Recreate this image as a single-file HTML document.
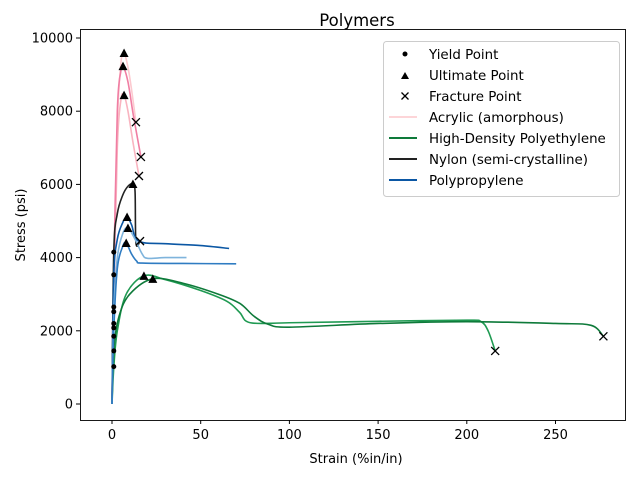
<!DOCTYPE html>
<html><head><meta charset="utf-8"><style>
body{margin:0;background:#fff}
svg{font-family:"DejaVu Sans","Liberation Sans",sans-serif}
</style></head><body>
<svg id="chart" width="640" height="480" viewBox="0 0 640 480">
<text x="357" y="26" font-size="16.5" text-anchor="middle">Polymers</text>
<g id="ticks"></g>
<g id="plot"></g>
<rect x="80.5" y="29.5" width="545" height="391" fill="none" stroke="#000" stroke-width="0.9"/>
<text x="356" y="463" font-size="13" text-anchor="middle">Strain (%in/in)</text>
<text transform="translate(25,225) rotate(-90)" font-size="13" text-anchor="middle">Stress (psi)</text>
<g>
<rect x="383.5" y="41.5" width="236" height="155" rx="3" fill="#fff" fill-opacity="0.85" stroke="#ccc"/>
<circle cx="405" cy="54" r="2.5" fill="#000"/>
<text x="429" y="59" font-size="13.4">Yield Point</text>
<path d="M401 79 L405 72 L409 79Z" fill="#000"/>
<text x="429" y="80" font-size="13.4">Ultimate Point</text>
<path d="M401.5 92.5 L408.5 99.5 M408.5 92.5 L401.5 99.5" stroke="#000" stroke-width="1.3"/>
<text x="429" y="101" font-size="13.4">Fracture Point</text>
<line x1="389" y1="117" x2="417" y2="117" stroke="#fdd5d8" stroke-width="2"/>
<text x="429" y="122" font-size="13.4">Acrylic (amorphous)</text>
<line x1="389" y1="138" x2="417" y2="138" stroke="#0e7a3a" stroke-width="2"/>
<text x="429" y="143" font-size="13.4">High-Density Polyethylene</text>
<line x1="389" y1="159" x2="417" y2="159" stroke="#222" stroke-width="2"/>
<text x="429" y="164" font-size="13.4">Nylon (semi-crystalline)</text>
<line x1="389" y1="180" x2="417" y2="180" stroke="#0b57a4" stroke-width="2"/>
<text x="429" y="185" font-size="13.4">Polypropylene</text>
</g>
</svg>
<script>
const xTicks=[0,50,100,150,200,250];
const yTicks=[0,2000,4000,6000,8000,10000];
const acr1X=[0,1,3,5,6.8,9,11,13.5], acr1Y=[0,3000,7600,9300,9590,9200,8600,7700];
const acr2X=[0,1,3,5,6.2,9,12,16.3], acr2Y=[0,3500,8000,9100,9230,8800,7900,6750];
const acr3X=[0,1,3,5,6.8,9,12,15.2], acr3Y=[0,2600,7000,8300,8440,8000,7100,6230];
const hd1X=[0,1,3,8,18,30,50,65,72,78,100,150,200,208,212,216], hd1Y=[0,1000,2000,3000,3500,3400,3100,2800,2500,2220,2220,2260,2290,2250,2000,1450];
const hd2X=[0,1,4,10,23,40,60,72,80,88,100,150,200,250,270,277], hd2Y=[0,1500,2400,3000,3420,3300,3000,2750,2400,2180,2100,2200,2250,2200,2150,1850];
const nyX=[0,1,3,6,9,11.8,13,13.5,15.8], nyY=[0,4150,5200,5700,5950,6010,5800,4400,4450];
const pp1X=[0,1,3,6,8.5,11,15,30,50,66], pp1Y=[0,3500,4500,4950,5110,4900,4450,4380,4330,4250];
const pp2X=[0,1,3,6,9,13,17,20,30,42], pp2Y=[0,2500,4000,4650,4810,4500,4100,3980,4000,4000];
const pp3X=[0,1,3,6,8,11,14,17,40,70], pp3Y=[0,2000,3700,4300,4400,4100,3900,3850,3840,3830];
const yieldX=[1,1,1,1,1,1,1,1,1], yieldY=[4150,3530,2650,2520,2200,2080,1850,1450,1020];
const ultX=[6.8,6.2,6.8,11.8,8.5,9,8,18,23], ultY=[9590,9230,8440,6010,5110,4810,4400,3500,3420];
const fracX=[13.5,16.3,15.2,15.8,216,277], fracY=[7700,6750,6230,4450,1450,1850];
const NS="http://www.w3.org/2000/svg";
const sx=v=>112+v*1.774, sy=v=>404-v*0.0366;
function mk(tag,attrs,parent){const e=document.createElementNS(NS,tag);for(const k in attrs)e.setAttribute(k,attrs[k]);parent.appendChild(e);return e;}
const tk=document.getElementById('ticks'), pl=document.getElementById('plot');
xTicks.forEach(t=>{
 const l=mk('line',{x1:sx(t),x2:sx(t),y1:420,y2:424,stroke:'#000'},tk);
 
 
 const tx=mk('text',{x:sx(t),y:439,'font-size':13,'text-anchor':'middle'},tk);tx.textContent=t;
 
 
});
yTicks.forEach(t=>{
 const l=mk('line',{x1:76,x2:80,y1:sy(t),y2:sy(t),stroke:'#000'},tk);
 
 
 const tx=mk('text',{x:73,y:sy(t)+4.5,'font-size':13,'text-anchor':'end'},tk);tx.textContent=t;
 
 
});
function smooth(X,Y){const p=X.map((x,i)=>[sx(x),sy(Y[i])]);let d='M'+p[0][0]+' '+p[0][1];
 for(let i=0;i<p.length-1;i++){const p0=p[Math.max(0,i-1)],p1=p[i],p2=p[i+1],p3=p[Math.min(p.length-1,i+2)];
 d+=` C${p1[0]+(p2[0]-p0[0])/6} ${p1[1]+(p2[1]-p0[1])/6} ${p2[0]-(p3[0]-p1[0])/6} ${p2[1]-(p3[1]-p1[1])/6} ${p2[0]} ${p2[1]}`;}return d;}
const series=[[acr1X,acr1Y,'#fcc9cf','acrylic-sample-1'],[acr3X,acr3Y,'#f9b4c0','acrylic-sample-3'],[acr2X,acr2Y,'#f07ea3','acrylic-sample-2'],
[hd1X,hd1Y,'#1f9a52','hdpe-sample-1'],[hd2X,hd2Y,'#0e7a3a','hdpe-sample-2'],[nyX,nyY,'#222','nylon-sample'],
[pp1X,pp1Y,'#0b57a4','pp-sample-1'],[pp2X,pp2Y,'#7fb4dc','pp-sample-2'],[pp3X,pp3Y,'#2f7cc2','pp-sample-3']];
series.forEach(s=>{const e=mk('path',{d:smooth(s[0],s[1]),fill:'none',stroke:s[2],'stroke-width':1.6},pl);
 
 });
yieldX.forEach((x,i)=>{const c=mk('circle',{cx:sx(x),cy:sy(yieldY[i]),r:2.5,fill:'#000'},pl);
 
 });
ultX.forEach((x,i)=>{const X=sx(x),Y=sy(ultY[i]);const t=mk('path',{d:`M${X-4.5} ${Y+4} L${X} ${Y-4.5} L${X+4.5} ${Y+4}Z`,fill:'#000'},pl);
 
 });
fracX.forEach((x,i)=>{const X=sx(x),Y=sy(fracY[i]);const t=mk('path',{d:`M${X-4} ${Y-4} L${X+4} ${Y+4} M${X+4} ${Y-4} L${X-4} ${Y+4}`,stroke:'#000','stroke-width':1.3},pl);
 
 });
</script>
</body></html>
